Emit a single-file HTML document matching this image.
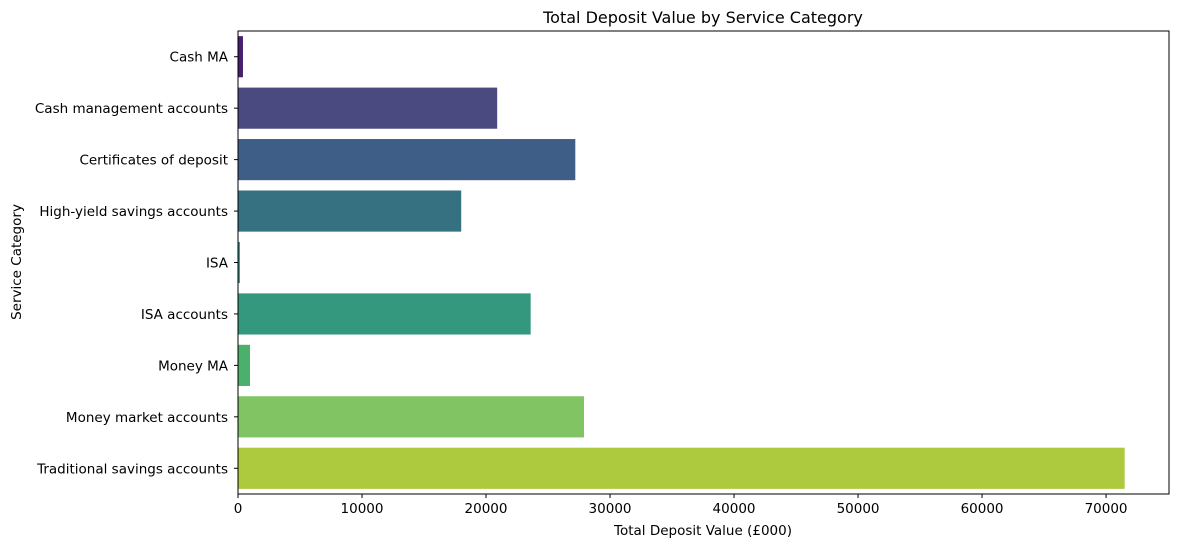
<!DOCTYPE html>
<html><head><meta charset="utf-8"><style>
body{margin:0;background:#fff;}
svg{font-family:"DejaVu Sans","Liberation Sans",sans-serif;}
</style></head><body>
<svg id="chart" width="1177" height="547">
<text x="703" y="23" text-anchor="middle" font-size="16">Total Deposit Value by Service Category</text>
<g id="bars"></g><g id="xaxis"></g><g id="yaxis"></g>
<rect x="238" y="31" width="931" height="463" fill="none" stroke="#000" stroke-width="1"/>
<text x="703" y="535" text-anchor="middle" font-size="13.5">Total Deposit Value (£000)</text>
<text transform="translate(21,262) rotate(-90)" text-anchor="middle" font-size="13.5">Service Category</text>
</svg>
<script>
const categories=["Cash MA","Cash management accounts","Certificates of deposit","High-yield savings accounts","ISA","ISA accounts","Money MA","Money market accounts","Traditional savings accounts"];
const values=[400,20900,27200,18000,150,23600,970,27900,71500];
const colors=["#46206f","#4a4a80","#3e5e87","#357180","#2b8b7e","#33987d","#4bb06b","#80c463","#adc93d"];
const xTicks=[0,10000,20000,30000,40000,50000,60000,70000];
const L=238,R=1169,T=31,B=494;
const xmax=Math.max(...values)*1.05;
const xs=v=>L+v/xmax*(R-L);
const band=(B-T)/categories.length;
const ys=i=>T+band*i;
const ns="http://www.w3.org/2000/svg";
const bars=document.getElementById('bars'),xa=document.getElementById('xaxis'),ya=document.getElementById('yaxis');
function mk(t,a,p){const e=document.createElementNS(ns,t);for(const k in a)e.setAttribute(k,a[k]);p.appendChild(e);return e;}
categories.forEach((c,i)=>{
 const r=mk('rect',{x:L,y:ys(i)+band*0.1,width:xs(values[i])-L,height:band*0.8,fill:colors[i]},bars);
 
 
 const cy=ys(i)+band/2;
 mk('line',{x1:L-4,x2:L,y1:cy,y2:cy,stroke:'#000'},ya);
 const t=mk('text',{x:L-10,y:cy+5,'text-anchor':'end','font-size':'13.5'},ya);
 t.textContent=c;
 
 
});
xTicks.forEach(v=>{
 const x=xs(v);
 mk('line',{x1:x,x2:x,y1:B,y2:B+4,stroke:'#000'},xa);
 const t=mk('text',{x:x,y:B+19,'text-anchor':'middle','font-size':'13.5'},xa);
 t.textContent=v;
 
 
});
</script>
</body></html>
